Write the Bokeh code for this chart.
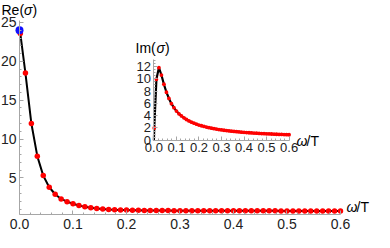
from bokeh.plotting import figure
from bokeh.models import Range1d, LinearAxis, FixedTicker, Label, NumeralTickFormatter
from bokeh.embed import file_html
from bokeh.resources import INLINE
import numpy as np

# ---- data ----
omega = [0.0015, 0.0111, 0.0222, 0.0333, 0.0444, 0.0556, 0.0667, 0.0778, 0.0889, 0.1000,
         0.1111, 0.1222, 0.1333, 0.1444, 0.1556, 0.1667, 0.1778, 0.1889, 0.2000, 0.2111,
         0.2222, 0.2333, 0.2444, 0.2556, 0.2667, 0.2778, 0.2889, 0.3000, 0.3111, 0.3222,
         0.3333, 0.3444, 0.3556, 0.3667, 0.3778, 0.3889, 0.4000, 0.4111, 0.4222, 0.4333,
         0.4444, 0.4556, 0.4667, 0.4778, 0.4889, 0.5000, 0.5111, 0.5222, 0.5333, 0.5444,
         0.5556, 0.5667, 0.5778, 0.5889, 0.6000]
re_sigma = [23.6, 18.5, 12.0, 7.8, 5.3, 3.8, 2.9, 2.3, 1.95, 1.68,
            1.45, 1.28, 1.16, 1.07, 1.00, 0.95, 0.91, 0.88, 0.86, 0.84,
            0.83, 0.82, 0.81, 0.80, 0.80, 0.80, 0.79, 0.79, 0.79, 0.79,
            0.78, 0.78, 0.78, 0.78, 0.78, 0.78, 0.77, 0.77, 0.77, 0.77,
            0.77, 0.77, 0.77, 0.77, 0.76, 0.76, 0.76, 0.76, 0.76, 0.76,
            0.76, 0.76, 0.76, 0.76, 0.76]
im_sigma = [2.0, 9.9, 11.8, 10.6, 9.1, 7.8, 6.8, 5.95, 5.3, 4.75,
            4.3, 3.95, 3.65, 3.38, 3.15, 2.95, 2.78, 2.62, 2.48, 2.36,
            2.25, 2.15, 2.05, 1.97, 1.89, 1.82, 1.75, 1.69, 1.63, 1.58,
            1.53, 1.48, 1.44, 1.40, 1.36, 1.32, 1.29, 1.26, 1.23, 1.20,
            1.17, 1.15, 1.12, 1.10, 1.08, 1.06, 1.04, 1.02, 1.00, 0.98,
            0.96, 0.95, 0.93, 0.92, 0.90]
omega_dc = 0.0
re_dc = 24.0
im_dc = 0.0

x_ticks = [0.0, 0.1, 0.2, 0.3, 0.4, 0.5, 0.6]
re_ticks = [5, 10, 15, 20, 25]
im_ticks = [0, 2, 4, 6, 8, 10, 12]

line_x = [omega_dc] + omega
re_line = [re_dc] + re_sigma
im_line = [im_dc] + im_sigma

# ---- style ----
W, H = 374, 232
AX = "#a6a6a6"
TXT = "#222222"
FONT = "Liberation Sans"

p = figure(width=W, height=H, output_backend="svg", toolbar_location=None,
           x_range=Range1d(-0.0355, 0.6636), y_range=Range1d(-2.02, 27.83),
           min_border=0, x_axis_type=None, y_axis_type=None)
p.outline_line_color = None
p.background_fill_color = "white"
p.border_fill_color = "white"

p.extra_x_ranges = {"ix": Range1d(-0.6809, 0.9791)}
p.extra_y_ranges = {"iy": Range1d(-14.97, 22.70)}


def style(ax, fs, standoff):
    ax.axis_line_color = AX
    ax.axis_line_width = 1
    ax.major_tick_line_color = AX
    ax.minor_tick_line_color = AX
    ax.major_tick_in = 4
    ax.major_tick_out = 0
    ax.minor_tick_in = 2
    ax.minor_tick_out = 0
    ax.major_label_text_font = FONT
    ax.major_label_text_font_size = fs
    ax.major_label_text_color = TXT
    ax.major_label_standoff = standoff


def minors(lo, hi, step, majors):
    vals = np.round(np.arange(lo, hi + 1e-9, step), 4)
    return [float(v) for v in vals if all(abs(v - m) > 1e-6 for m in majors)]


# main axes
xa = LinearAxis(fixed_location=0.3, bounds=(0, 0.6),
                ticker=FixedTicker(ticks=x_ticks, minor_ticks=minors(0, 0.6, 0.02, x_ticks)),
                formatter=NumeralTickFormatter(format="0.0"))
style(xa, "14px", 5)
p.add_layout(xa, "below")
ya = LinearAxis(fixed_location=0.0, bounds=(0.3, 25.2),
                ticker=FixedTicker(ticks=re_ticks, minor_ticks=minors(1, 25, 1, re_ticks)))
style(ya, "14px", 3)
p.add_layout(ya, "left")

# inset axes
ixa = LinearAxis(x_range_name="ix", y_range_name="iy", fixed_location=0.0, bounds=(0, 0.6),
                 ticker=FixedTicker(ticks=x_ticks, minor_ticks=minors(0, 0.6, 0.02, x_ticks)),
                 formatter=NumeralTickFormatter(format="0.0"))
style(ixa, "13px", 3)
p.add_layout(ixa, "below")
iya = LinearAxis(x_range_name="ix", y_range_name="iy", fixed_location=0.0, bounds=(0, 13.1),
                 ticker=FixedTicker(ticks=im_ticks, minor_ticks=minors(0.5, 13, 0.5, im_ticks)))
style(iya, "13px", 3)
p.add_layout(iya, "left")

# main data
p.line(line_x, re_line, line_color="black", line_width=2)
p.scatter(omega, re_sigma, size=5.5, fill_color="red", line_color=None)
p.scatter([omega_dc], [re_dc], size=8, fill_color="#1010ff", line_color=None)

# inset data
p.line(line_x, im_line, line_color="black", line_width=2.2,
       x_range_name="ix", y_range_name="iy")
p.scatter(omega, im_sigma, size=3.8, fill_color="red", line_color=None,
          x_range_name="ix", y_range_name="iy")


def lab(x, y, text, italic=False, size="14px", baseline="top"):
    p.add_layout(Label(x=x, y=y, x_units="screen", y_units="screen", text=text,
                       text_font=FONT, text_font_size=size, text_color="black",
                       text_font_style="italic" if italic else "normal",
                       text_baseline=baseline))


# Re(σ)
lab(1, H - 1, "Re(")
lab(23.5, H - 1, "σ", italic=True)
lab(32, H - 1, ")")
# main ω/T
lab(346, 26, "ω", italic=True, baseline="middle")
lab(356, 26, "/T", baseline="middle")
# Im(σ)
lab(135, 193, "Im(")
lab(156, 193, "σ", italic=True)
lab(164.5, 193, ")")
# inset ω/T
lab(296, 92, "ω", italic=True, baseline="middle")
lab(306, 92, "/T", baseline="middle")

open("out.html", "w").write(file_html(p, INLINE))
